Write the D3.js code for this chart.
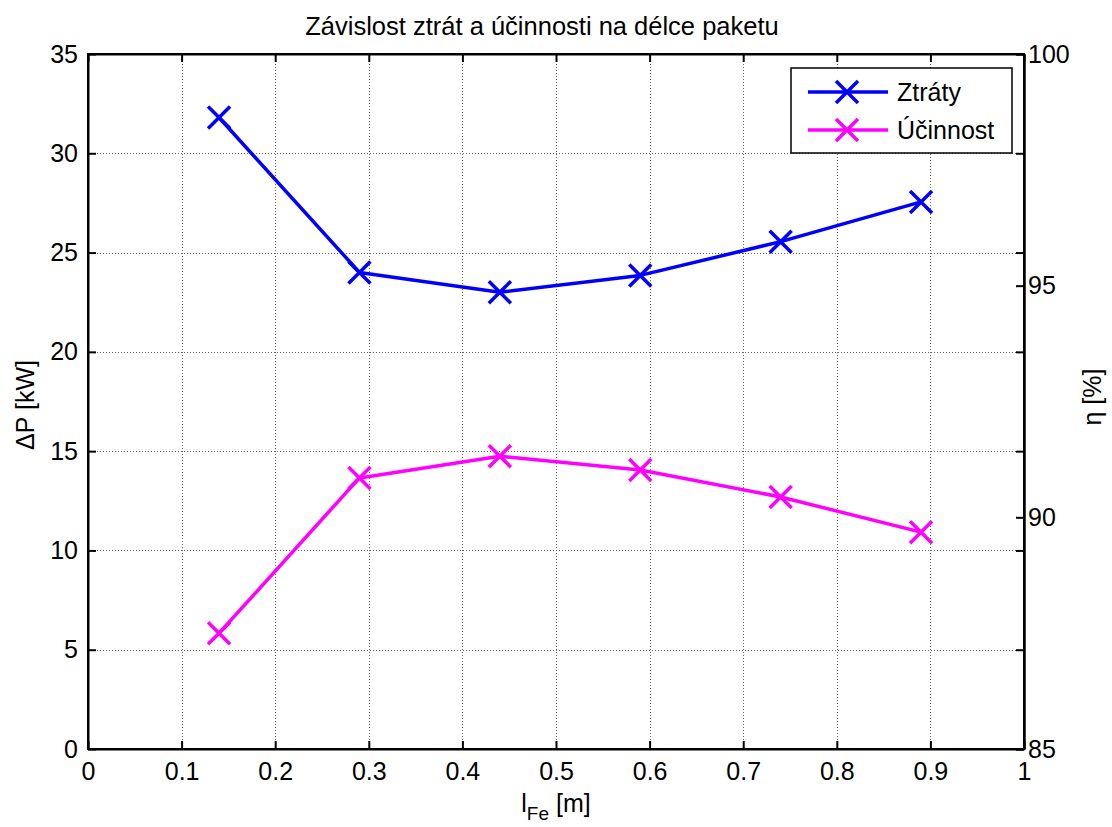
<!DOCTYPE html>
<html lang="cs">
<head>
<meta charset="UTF-8">
<title>Závislost ztrát a účinnosti na délce paketu</title>
<style>
  body { margin: 0; background: #fff; }
  text { font-family: "Liberation Sans", Arial, sans-serif; fill: #000; }
  .grid line { stroke: #666; stroke-dasharray: 1,2; shape-rendering: crispEdges; }
  .grid path { display: none; }
  .tick text { font-size: 25px; font-family: "Liberation Sans", Arial, sans-serif; }
</style>
</head>
<body>
<div id="chart"></div>
<script src="https://d3js.org/d3.v7.min.js"></script>
<script>
// data
const lengths = [0.14, 0.29, 0.44, 0.59, 0.74, 0.89];
const losses = [31.8, 24.0, 23.0, 23.85, 25.55, 27.55];
const efficiency = [87.5, 90.85, 91.32, 91.02, 90.44, 89.68];
const xTicks = [0, 0.1, 0.2, 0.3, 0.4, 0.5, 0.6, 0.7, 0.8, 0.9, 1];
const yLeftTicks = [0, 5, 10, 15, 20, 25, 30, 35];
const yRightTicks = [85, 90, 95, 100];
const seriesNames = ["Ztráty", "Účinnost"];

const W = 1112, H = 827;
const margin = {top: 54, right: 88, bottom: 78, left: 88};
const width = W - margin.left - margin.right,
      height = H - margin.top - margin.bottom;

const svg = d3.select("#chart").append("svg")
  .attr("width", W)
  .attr("height", H);
const g = svg.append("g")
  .attr("transform", `translate(${margin.left},${margin.top})`);

const x = d3.scaleLinear().domain([0, 1]).range([0, width]);
const yL = d3.scaleLinear().domain([0, 35]).range([height, 0]);
const yR = d3.scaleLinear().domain([85, 100]).range([height, 0]);

// grid
g.append("g").attr("class", "grid")
  .attr("transform", `translate(0,${height})`)
  .call(d3.axisBottom(x).tickValues(xTicks).tickSize(-height).tickFormat(""));
g.append("g").attr("class", "grid")
  .call(d3.axisLeft(yL).tickValues(yLeftTicks).tickSize(-width).tickFormat(""));

// box
g.append("rect")
  .attr("width", width).attr("height", height)
  .attr("fill", "none").attr("stroke", "#000").attr("stroke-width", 2);

// axes (ticks inward like matlab)
const fmt = d3.format("~g");
g.append("g").attr("transform", `translate(0,${height})`)
  .call(d3.axisBottom(x).tickValues(xTicks).tickSizeInner(-8).tickSizeOuter(0).tickPadding(13).tickFormat(fmt));
g.append("g")
  .call(d3.axisTop(x).tickValues(xTicks).tickSizeInner(-8).tickSizeOuter(0).tickFormat(""));
g.append("g")
  .call(d3.axisLeft(yL).tickValues(yLeftTicks).tickSizeInner(-8).tickSizeOuter(0).tickPadding(10));
g.append("g").attr("transform", `translate(${width},0)`)
  .call(d3.axisRight(yL).tickValues(yLeftTicks).tickSizeInner(-8).tickSizeOuter(0).tickFormat(""));
g.append("g").attr("transform", `translate(${width},0)`)
  .call(d3.axisRight(yR).tickValues(yRightTicks).tickSizeInner(-8).tickSizeOuter(0).tickPadding(4));

g.selectAll(".domain").attr("stroke", "#000").attr("stroke-width", 2);
g.selectAll(".tick line").attr("stroke", "#000").attr("stroke-width", 2);
g.selectAll(".grid .tick line").attr("stroke", "#666").attr("stroke-width", 1);
g.selectAll(".tick text").attr("fill", "#000");

// series
const colors = ["#0000ff", "#ff00ff"];
const ptsL = lengths.map((v, i) => [x(v), yL(losses[i])]);
const ptsR = lengths.map((v, i) => [x(v), yR(efficiency[i])]);
const line = d3.line();

function xMarker(sel, cx, cy, color) {
  const s = 11;
  sel.append("path")
    .attr("d", `M${cx - s},${cy - s}L${cx + s},${cy + s}M${cx - s},${cy + s}L${cx + s},${cy - s}`)
    .attr("stroke", color).attr("stroke-width", 3.5).attr("fill", "none");
}

[ptsL, ptsR].forEach((pts, k) => {
  g.append("path").attr("d", line(pts))
    .attr("fill", "none").attr("stroke", colors[k]).attr("stroke-width", 3.5)
    .attr("stroke-linejoin", "round");
  pts.forEach(p => xMarker(g, p[0], p[1], colors[k]));
});

// legend
const lg = svg.append("g").attr("transform", "translate(791,68)");
lg.append("rect").attr("width", 221).attr("height", 85)
  .attr("fill", "#fff").attr("stroke", "#000").attr("stroke-width", 1.5);
seriesNames.forEach((name, i) => {
  const yy = 24 + i * 38;
  lg.append("line").attr("x1", 17).attr("x2", 97).attr("y1", yy).attr("y2", yy)
    .attr("stroke", colors[i]).attr("stroke-width", 3.5);
  xMarker(lg, 56, yy, colors[i]);
  lg.append("text").attr("x", 106).attr("y", yy + 9).style("font-size", "25px").text(name);
});

// title and labels
svg.append("text")
  .attr("x", 542).attr("y", 35)
  .attr("text-anchor", "middle").style("font-size", "25.5px")
  .text("Závislost ztrát a účinnosti na délce paketu");

const xl = svg.append("text")
  .attr("x", margin.left + width / 2).attr("y", 812)
  .attr("text-anchor", "middle").style("font-size", "25px");
xl.append("tspan").text("l");
xl.append("tspan").attr("dy", 8).style("font-size", "19px").text("Fe");
xl.append("tspan").attr("dy", -8).text(" [m]");

svg.append("text")
  .attr("transform", "translate(34,405) rotate(-90)")
  .attr("text-anchor", "middle").style("font-size", "25px")
  .text("ΔP [kW]");

svg.append("text")
  .attr("transform", "translate(1101,397) rotate(-90)")
  .attr("text-anchor", "middle").style("font-size", "25px")
  .text("η [%]");
</script>
</body>
</html>
